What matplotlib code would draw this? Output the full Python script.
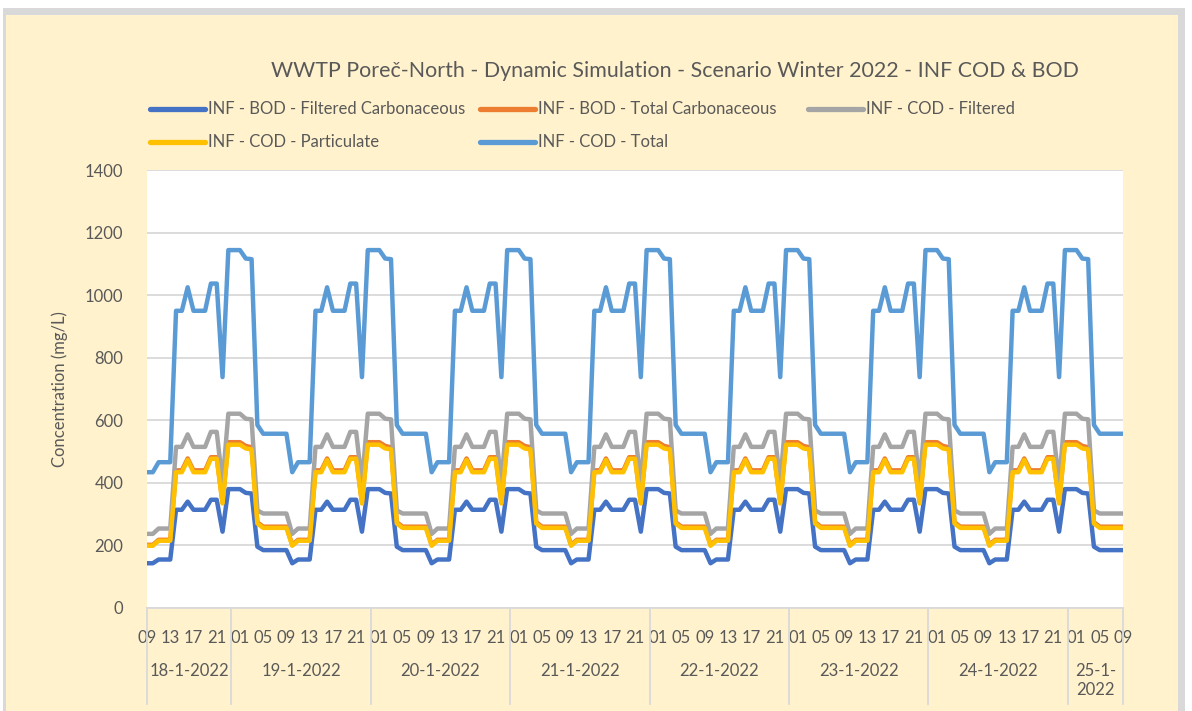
import numpy as np
import pandas as pd
import matplotlib
matplotlib.use("Agg")
import matplotlib.pyplot as plt
from matplotlib.patches import Rectangle
from matplotlib.lines import Line2D

plt.rcParams["font.family"] = ["Lato", "DejaVu Sans"]

# 1) Data: hourly daily profile (hour 0..23), mg/L
hour_of_day = list(range(24))
bod_filtered_carb = [380, 380, 368, 366, 196, 185, 185, 185, 185, 185, 143, 155, 155, 155,
                     314, 314, 340, 314, 314, 314, 346, 346, 244, 380]
bod_total_carb = [530, 530, 518, 514, 274, 260, 260, 260, 260, 260, 202, 218, 218, 218,
                  440, 440, 478, 440, 440, 440, 482, 482, 338, 530]
cod_filtered = [621, 621, 605, 603, 312, 302, 302, 302, 302, 302, 237, 254, 254, 254,
                515, 515, 555, 515, 515, 515, 563, 563, 400, 621]
cod_particulate = [522, 522, 510, 507, 270, 256, 256, 256, 256, 256, 199, 215, 215, 215,
                   434, 434, 473, 434, 434, 434, 477, 477, 334, 522]
cod_total = [1144, 1144, 1117, 1115, 585, 557, 557, 557, 557, 557, 434, 466, 466, 466,
             950, 950, 1025, 950, 950, 950, 1037, 1037, 738, 1144]

# value at the very first time step (18-1-2022 09:00), before the daily pattern settles
first_values = {"bod_f": 143, "bod_t": 202, "cod_f": 237, "cod_p": 199, "cod_t": 434}

series_names = ["INF - BOD - Filtered Carbonaceous", "INF - BOD - Total Carbonaceous",
                "INF - COD - Filtered", "INF - COD - Particulate", "INF - COD - Total"]
series_keys = ["bod_f", "bod_t", "cod_f", "cod_p", "cod_t"]
series_colors = ["#4472C4", "#ED7D31", "#A5A5A5", "#FFC000", "#5B9BD5"]

# 2) Build hourly table 18-1-2022 09:00 .. 25-1-2022 09:00
times = pd.date_range("2022-01-18 09:00", "2022-01-25 09:00", freq="h")
profiles = pd.DataFrame({"bod_f": bod_filtered_carb, "bod_t": bod_total_carb,
                         "cod_f": cod_filtered, "cod_p": cod_particulate,
                         "cod_t": cod_total}, index=hour_of_day)
df = profiles.loc[times.hour].reset_index(drop=True)
for k, v in first_values.items():
    df.loc[0, k] = v
df["time"] = times
x = np.arange(len(df))

# 3) Figure
W, H = 1192, 711
txt = "#595959"
fig = plt.figure(figsize=(W / 100, H / 100), dpi=100)
fig.patch.set_facecolor("white")
fig.add_artist(Rectangle((3 / W, 0), 1182 / W, 1 - 8 / H, transform=fig.transFigure,
                         facecolor="#D9D9D9", edgecolor="none", zorder=0))
fig.add_artist(Rectangle((6 / W, 0), 1172 / W, 1 - 15 / H, transform=fig.transFigure,
                         facecolor="#FFF2CC", edgecolor="none", zorder=0))

ax = fig.add_axes([147 / W, 1 - 608 / H, 976 / W, 438 / H])
ax.set_facecolor("white")
for k, c in zip(series_keys, series_colors):
    ax.plot(x, df[k], color=c, lw=3.2, solid_joinstyle="round", solid_capstyle="round",
            zorder=3)

ax.set_xlim(0, len(df) - 1)
ax.set_ylim(0, 1400)
ax.set_yticks(range(0, 1401, 200))
ax.grid(axis="y", color="#D9D9D9", lw=1.3)
ax.set_axisbelow(True)
for s in ["top", "right", "left"]:
    ax.spines[s].set_visible(False)
ax.spines["bottom"].set_color("#D9D9D9")
ax.spines["bottom"].set_linewidth(1.3)
ax.tick_params(axis="y", length=0, labelsize=12, labelcolor=txt, pad=17)
ax.set_ylabel("Concentration (mg/L)", fontsize=12, color=txt, labelpad=12)

# hour labels every 4 steps
lab_idx = x[::4]
ax.set_xticks(lab_idx)
ax.set_xticklabels(df["time"].dt.strftime("%H")[::4], fontsize=12, color=txt)
ax.tick_params(axis="x", length=0, pad=16)

# day groups below the hour labels
day = df["time"].dt.date
bounds = [0.0] + [i - 0.5 for i in range(1, len(df)) if day[i] != day[i - 1]] + [len(df) - 1]
for b in bounds:
    ax.add_line(Line2D([b, b], [0, -0.22], transform=ax.get_xaxis_transform(),
                       color="#D9D9D9", lw=1.3, clip_on=False))
days = sorted(day.unique())
for i, d in enumerate(days):
    lab = f"{d.day}-{d.month}-{d.year}"
    if i == len(days) - 1:
        lab = f"{d.day}-{d.month}-\n{d.year}"
    ax.text((bounds[i] + bounds[i + 1]) / 2, -0.125, lab, transform=ax.get_xaxis_transform(),
            ha="center", va="top", fontsize=12, color=txt, linespacing=1.25)

fig.text(675 / W, 1 - 71 / H, "WWTP Poreč-North - Dynamic Simulation - Scenario Winter 2022 - INF COD & BOD",
         ha="center", va="center", fontsize=15.4, color=txt)

# legend laid out like the original (3 columns, 2 rows)
leg_pos = [(150, 109), (480, 109), (808, 109), (150, 142), (480, 142)]
for (lx, ly), name, c in zip(leg_pos, series_names, series_colors):
    fig.add_artist(Line2D([lx / W, (lx + 55) / W], [1 - ly / H, 1 - ly / H],
                          transform=fig.transFigure, color=c, lw=3.8, solid_capstyle="round"))
    fig.text((lx + 58) / W, 1 - ly / H, name, ha="left", va="center", fontsize=12,
             color=txt)

fig.savefig("out.png", dpi=100)
plt.close(fig)
